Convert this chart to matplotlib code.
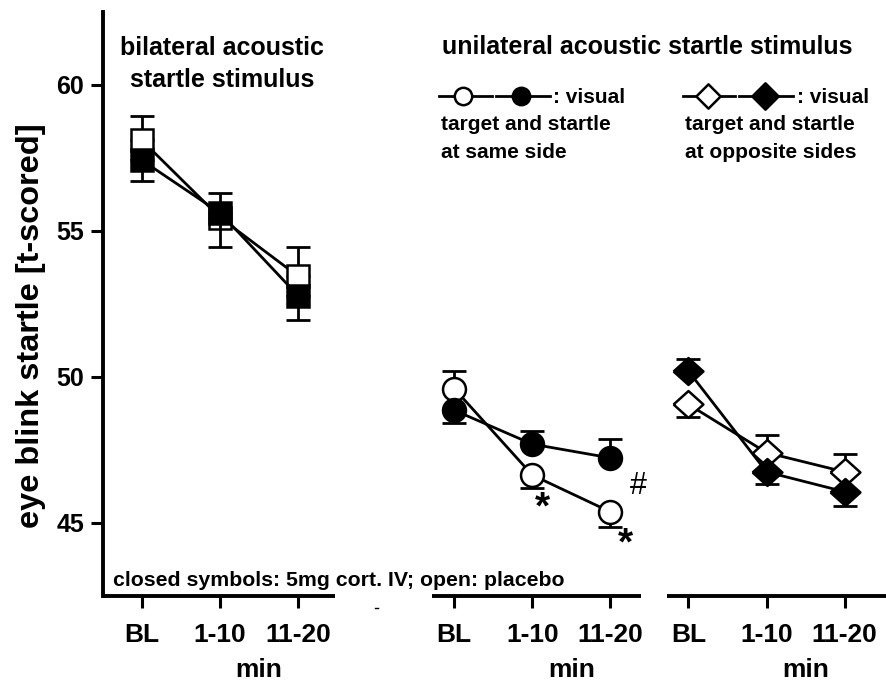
import matplotlib
matplotlib.use("Agg")
import matplotlib.pyplot as plt
import numpy as np

plt.rcParams['font.family'] = ['Liberation Sans', 'DejaVu Sans']
plt.rcParams['font.weight'] = 'bold'

# ---- data -------------------------------------------------------------
time_labels = ['BL', '1-10', '11-20']
x_bilateral = [0, 1, 2]
x_same = [4, 5, 6]
x_opposite = [7, 8, 9]

# bilateral acoustic startle (squares)
bil_placebo = [58.10, 55.46, 53.45]
bil_placebo_err_up = [0.83, 0.85, 1.01]
bil_placebo_err_dn = [0.0, 0.0, 0.0]
bil_cort = [57.42, 55.62, 52.78]
bil_cort_err_up = [0.0, 0.0, 0.0]
bil_cort_err_dn = [0.71, 1.16, 0.83]

# unilateral, target and startle at same side (circles)
same_placebo = [49.60, 46.64, 45.38]
same_placebo_err_up = [0.60, 0.0, 0.0]
same_placebo_err_dn = [0.0, 0.44, 0.51]
same_cort = [48.86, 47.70, 47.23]
same_cort_err_up = [0.0, 0.46, 0.64]
same_cort_err_dn = [0.43, 0.0, 0.0]

# unilateral, target and startle at opposite sides (diamonds)
opp_placebo = [49.06, 47.41, 46.75]
opp_placebo_err_up = [0.0, 0.59, 0.60]
opp_placebo_err_dn = [0.42, 0.0, 0.0]
opp_cort = [50.20, 46.75, 46.07]
opp_cort_err_up = [0.40, 0.0, 0.0]
opp_cort_err_dn = [0.0, 0.40, 0.48]

y_ticks = [45, 50, 55, 60]

# ---- figure -----------------------------------------------------------
W, H = 886, 681
fig = plt.figure(figsize=(W / 100, H / 100), dpi=100)


def fx(px):
    return px / W


def fy(py):
    return 1 - py / H


ax = fig.add_axes([fx(103), fy(596), fx(886) - fx(103), fy(12) - fy(596)])
ax.set_xlim(-0.5, 9.53)
ax.set_ylim(42.5, 62.5)

for s in ['top', 'right', 'bottom']:
    ax.spines[s].set_visible(False)
ax.spines['left'].set_linewidth(2.8)

# broken x axis: one segment per panel
for a, b in [(-0.5, 2.47), (3.72, 6.39), (6.72, 9.6)]:
    ax.plot([a, b], [0, 0], color='k', lw=2.8, solid_capstyle='butt',
            transform=ax.get_xaxis_transform(), clip_on=False)
# small leftover tick between the first two segments
fig.add_artist(plt.Line2D([fx(374.5), fx(378)], [fy(608), fy(608)], color='k',
                          lw=1.0, transform=fig.transFigure))

ax.set_xticks(x_bilateral + x_same + x_opposite)
ax.set_xticklabels(time_labels * 3)
ax.set_yticks(y_ticks)
ax.tick_params(axis='both', width=2.2, length=8.5, direction='out')
ax.tick_params(axis='x', pad=11, labelsize=19)
ax.tick_params(axis='y', pad=5, labelsize=18)
for lab in ax.get_xticklabels() + ax.get_yticklabels():
    lab.set_fontweight('bold')

LW = 2.0
EW = 1.8
diamond = [(-1, 0), (0, 0.9), (1, 0), (0, -0.9), (-1, 0)]
diamond_leg = [(-1, 0), (0, 1.0), (1, 0), (0, -1.0), (-1, 0)]


def series(x, y, up, dn, marker, ms, filled, z):
    ax.plot(x, y, color='k', lw=LW, zorder=z)
    x = np.asarray(x, float)
    y = np.asarray(y, float)
    up = np.asarray(up, float)
    dn = np.asarray(dn, float)
    m = (up > 0) | (dn > 0)
    ax.errorbar(x[m], y[m], yerr=[dn[m], up[m]], fmt='none', ecolor='k',
                elinewidth=2.0, capsize=8.3, capthick=2.0, zorder=z)
    ax.plot(x, y, ls='none', marker=marker, ms=ms,
            mfc='k' if filled else 'white', mec='k', mew=EW, zorder=z + 0.5)


series(x_bilateral, bil_placebo, bil_placebo_err_up, bil_placebo_err_dn, 's', 15.5, False, 3)
series(x_bilateral, bil_cort, bil_cort_err_up, bil_cort_err_dn, 's', 15.5, True, 4)
series(x_same, same_placebo, same_placebo_err_up, same_placebo_err_dn, 'o', 16.5, False, 3)
series(x_same, same_cort, same_cort_err_up, same_cort_err_dn, 'o', 16.5, True, 4)
series(x_opposite, opp_placebo, opp_placebo_err_up, opp_placebo_err_dn, diamond, 21.5, False, 3)
series(x_opposite, opp_cort, opp_cort_err_up, opp_cort_err_dn, diamond, 21.5, True, 4)

# significance marks
ax.text(5.13, 45.50, '*', fontsize=28, fontweight='bold', ha='center', va='center')
ax.text(6.19, 44.25, '*', fontsize=28, fontweight='bold', ha='center', va='center')
ax.text(6.36, 46.25, '#', fontsize=22, fontweight='normal', ha='center', va='center')

# axis labels
fig.text(fx(31), fy(326), 'eye blink startle [t-scored]', rotation=90,
         fontsize=23.4, fontweight='bold', ha='center', va='center')
for xm in [1.5, 5.5, 8.5]:
    ax.annotate('min', xy=(xm, fy(677)), xycoords=('data', 'figure fraction'),
                fontsize=19, fontweight='bold', ha='center', va='baseline',
                annotation_clip=False)

# panel titles
fig.text(fx(222), fy(55), 'bilateral acoustic', fontsize=18, ha='center', va='baseline')
fig.text(fx(222), fy(87), 'startle stimulus', fontsize=18, ha='center', va='baseline')
fig.text(fx(647), fy(54), 'unilateral acoustic startle stimulus', fontsize=18,
         ha='center', va='baseline')


# symbol keys
def key(x0, x1, xm, y, marker, ms, filled):
    ax_t = fig.transFigure
    fig.add_artist(plt.Line2D([fx(x0), fx(x1)], [fy(y), fy(y)], color='k', lw=LW,
                              transform=ax_t))
    fig.add_artist(plt.Line2D([fx(xm)], [fy(y)], ls='none', marker=marker, ms=ms,
                              mfc='k' if filled else 'white', mec='k', mew=EW,
                              transform=ax_t))


key(439, 492, 463, 95.5, 'o', 12.5, False)
key(496, 550, 521, 95.5, 'o', 12.5, True)
key(683, 735, 708, 95.5, diamond_leg, 17.5, False)
key(739, 793, 765, 95.5, diamond_leg, 19.0, True)

fig.text(fx(553), fy(103), ': visual', fontsize=15, ha='left', va='baseline')
fig.text(fx(441), fy(130), 'target and startle', fontsize=15, ha='left', va='baseline')
fig.text(fx(441), fy(158), 'at same side', fontsize=15, ha='left', va='baseline')
fig.text(fx(797), fy(103), ': visual', fontsize=15, ha='left', va='baseline')
fig.text(fx(685), fy(130), 'target and startle', fontsize=15, ha='left', va='baseline')
fig.text(fx(685), fy(158), 'at opposite sides', fontsize=15, ha='left', va='baseline')

fig.text(fx(113), fy(586), 'closed symbols: 5mg cort. IV; open: placebo', fontsize=15.3,
         ha='left', va='baseline')

fig.savefig('out.png', dpi=100)
